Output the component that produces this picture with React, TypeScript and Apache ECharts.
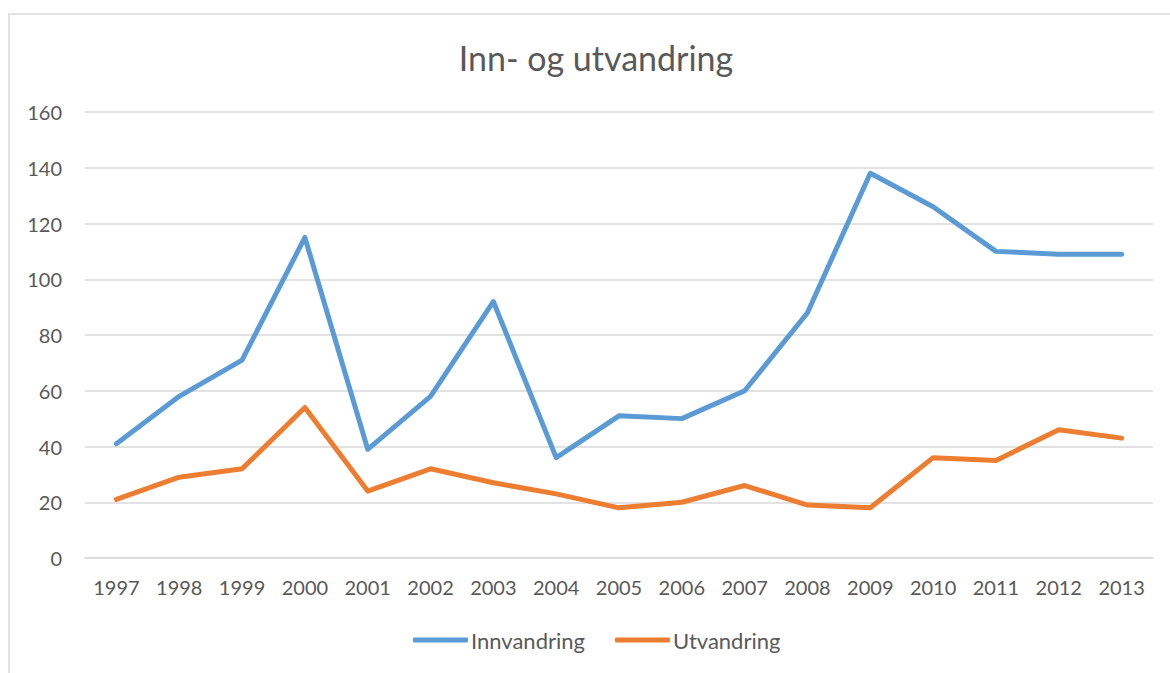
import React, { useEffect, useRef } from "react";
import * as echarts from "echarts";

const years = ["1997","1998","1999","2000","2001","2002","2003","2004","2005","2006","2007","2008","2009","2010","2011","2012","2013"];
const innvandring = [41, 58, 71, 115, 39, 58, 92, 36, 51, 50, 60, 88, 138, 126, 110, 109, 109];
const utvandring = [21, 29, 32, 54, 24, 32, 27, 23, 18, 20, 26, 19, 18, 36, 35, 46, 43];
const titleText = "Inn- og utvandring";
const seriesNames = ["Innvandring", "Utvandring"];

const FONT = "Lato, 'Open Sans', sans-serif";
const TEXT = "#595959";

export default function App() {
  const ref = useRef<HTMLDivElement>(null);
  useEffect(() => {
    if (!ref.current) return;
    const chart = echarts.init(ref.current, null, { renderer: "svg" });
    chart.setOption({
      animation: false,
      backgroundColor: "#ffffff",
      title: {
        text: titleText,
        left: 591,
        top: 35,
        textAlign: "center",
        textStyle: { fontFamily: FONT, fontSize: 34, fontWeight: "normal", color: TEXT },
      },
      graphic: [
        {
          type: "rect",
          shape: { x: 9, y: 14, width: 1200, height: 700 },
          style: { fill: "none", stroke: "#D9D9D9", lineWidth: 1.5 },
          silent: true,
        },
      ],
      legend: {
        left: 408,
        top: 624,
        icon: "roundRect",
        itemWidth: 55,
        itemHeight: 5,
        itemGap: 30,
        data: seriesNames,
        textStyle: { fontFamily: FONT, fontSize: 22, color: TEXT, padding: [0, 0, 0, -2] },
      },
      grid: { left: 85, right: 17, top: 112, bottom: 115, containLabel: false },
      xAxis: {
        type: "category",
        data: years,
        boundaryGap: true,
        axisLine: { show: true, lineStyle: { color: "#D9D9D9", width: 1.5 } },
        axisTick: { show: false },
        axisLabel: { fontFamily: FONT, fontSize: 20, color: TEXT, margin: 19 },
      },
      yAxis: {
        type: "value",
        min: 0,
        max: 160,
        interval: 20,
        axisLine: { show: false },
        axisTick: { show: false },
        splitLine: { lineStyle: { color: "#D9D9D9", width: 1.5 } },
        axisLabel: { fontFamily: FONT, fontSize: 20, color: TEXT, margin: 23 },
      },
      series: [
        {
          name: seriesNames[0],
          type: "line",
          data: innvandring,
          symbol: "none",
          color: "#5B9BD5",
          lineStyle: { width: 5, color: "#5B9BD5", cap: "round", join: "round" },
        },
        {
          name: seriesNames[1],
          type: "line",
          data: utvandring,
          symbol: "none",
          color: "#ED7D31",
          lineStyle: { width: 5, color: "#ED7D31", cap: "round", join: "round" },
        },
      ],
    });
    return () => chart.dispose();
  }, []);
  return (
    <div
      ref={ref}
      style={{ position: "fixed", left: 0, top: 0, width: 1170, height: 673 }}
    />
  );
}
